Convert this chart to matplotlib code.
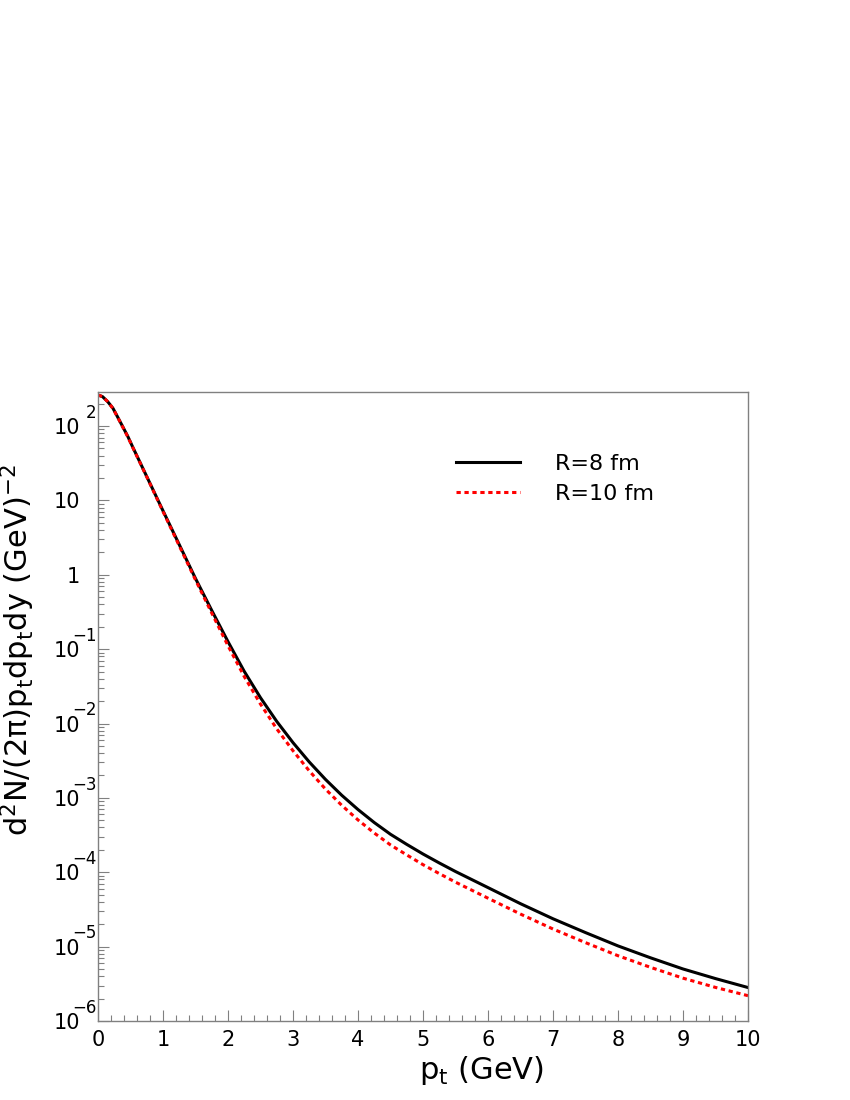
import numpy as np
import matplotlib
matplotlib.use("Agg")
import matplotlib.pyplot as plt
from matplotlib.ticker import FixedLocator, LogLocator, MultipleLocator, NullFormatter

# transverse momentum grid (GeV) and spectra
pt = [0.0, 0.07, 0.15, 0.23, 0.3, 0.38, 0.46, 0.53, 0.75, 1.0, 1.25, 1.5, 1.75,
      2.0, 2.25, 2.5, 2.75, 3.0, 3.25, 3.5, 3.75, 4.0, 4.25, 4.5, 4.75, 5.0,
      5.25, 5.5, 6.0, 6.5, 7.0, 7.5, 8.0, 8.5, 9.0, 9.5, 10.0]
spec_r8 = [261, 248, 212, 173, 133, 98, 72, 53, 20.9, 7.24, 2.54, 0.89, 0.331,
           0.126, 0.0502, 0.0222, 0.01066, 5.53e-3, 3.04e-3, 1.77e-3, 1.084e-3,
           6.97e-4, 4.66e-4, 3.24e-4, 2.37e-4, 1.76e-4, 1.334e-4, 1.023e-4,
           6.22e-5, 3.78e-5, 2.37e-5, 1.545e-5, 1.023e-5, 7.08e-6, 5.01e-6,
           3.72e-6, 2.82e-6]
spec_r10 = [261, 248, 212, 172, 132, 97, 71, 52.5, 20.7, 7.08, 2.45, 0.851, 0.305,
            0.111, 0.0428, 0.01824, 8.47e-3, 4.30e-3, 2.31e-3, 1.312e-3, 7.94e-4,
            5.05e-4, 3.37e-4, 2.33e-4, 1.71e-4, 1.265e-4, 9.6e-5, 7.36e-5,
            4.48e-5, 2.74e-5, 1.726e-5, 1.132e-5, 7.55e-6, 5.27e-6, 3.77e-6,
            2.83e-6, 2.19e-6]
labels = ["R=8 fm", "R=10 fm"]

y_major = [1e2, 1e1, 1e0, 1e-1, 1e-2, 1e-3, 1e-4, 1e-5, 1e-6]
y_base = ["10", "10", "1", "10", "10", "10", "10", "10", "10"]
y_exp = ["2", "", "", "\u22121", "\u22122", "\u22123", "\u22124", "\u22125", "\u22126"]

grey = "#808080"

fig = plt.figure(figsize=(8.5, 11), dpi=100)
ax = fig.add_axes([0.1153, 0.0718, 0.7647, 0.5718])

ax.plot(pt, spec_r8, color="black", lw=2.2, label=labels[0])
ax.plot(pt, spec_r10, color="red", lw=2.2, linestyle=(0, (1.4, 1.2)), label=labels[1])

ax.set_yscale("log")
ax.set_xlim(0, 10)
ax.set_ylim(1e-6, 286)

for side in ["left", "bottom", "right", "top"]:
    ax.spines[side].set_color(grey)
    ax.spines[side].set_linewidth(1.0)

ax.xaxis.set_major_locator(MultipleLocator(1))
ax.xaxis.set_minor_locator(MultipleLocator(0.2))
ax.yaxis.set_major_locator(FixedLocator(y_major))
ax.yaxis.set_minor_locator(LogLocator(base=10, subs=np.arange(2, 10)))
ax.yaxis.set_minor_formatter(NullFormatter())
ax.set_yticklabels(y_base)

ax.tick_params(which="both", direction="in", color=grey, width=0.8,
               top=False, right=False)
ax.tick_params(axis="x", which="major", length=8, pad=6.5, labelsize=15)
ax.tick_params(axis="x", which="minor", length=4.2)
ax.tick_params(axis="y", which="major", length=8, pad=13, labelsize=15)
ax.tick_params(axis="y", which="minor", length=4.6)

# exponents of the log labels hang next to the axis, as in the original
for v, e in zip(y_major, y_exp):
    if e:
        ax.annotate(e, xy=(0, v), xycoords=("axes fraction", "data"),
                    xytext=(-1, 3), textcoords="offset points",
                    ha="right", va="bottom", fontsize=12)

ax.set_xlabel(r"p$_{\rm t}$ (GeV)", fontsize=22)
ax.xaxis.set_label_coords(0.59, -0.052)
ax.set_ylabel(r"d$^{2}$N/(2π)p$_{\rm t}$dp$_{\rm t}$dy (GeV)$^{-2}$", fontsize=22)
ax.yaxis.set_label_coords(-0.094, 0.59)

ax.legend(frameon=False, loc="upper left", bbox_to_anchor=(0.551, 0.9016),
          borderpad=0, borderaxespad=0, fontsize=16, handlelength=2.88,
          handletextpad=1.57, labelspacing=0.46)

fig.savefig("out.png", dpi=100)
